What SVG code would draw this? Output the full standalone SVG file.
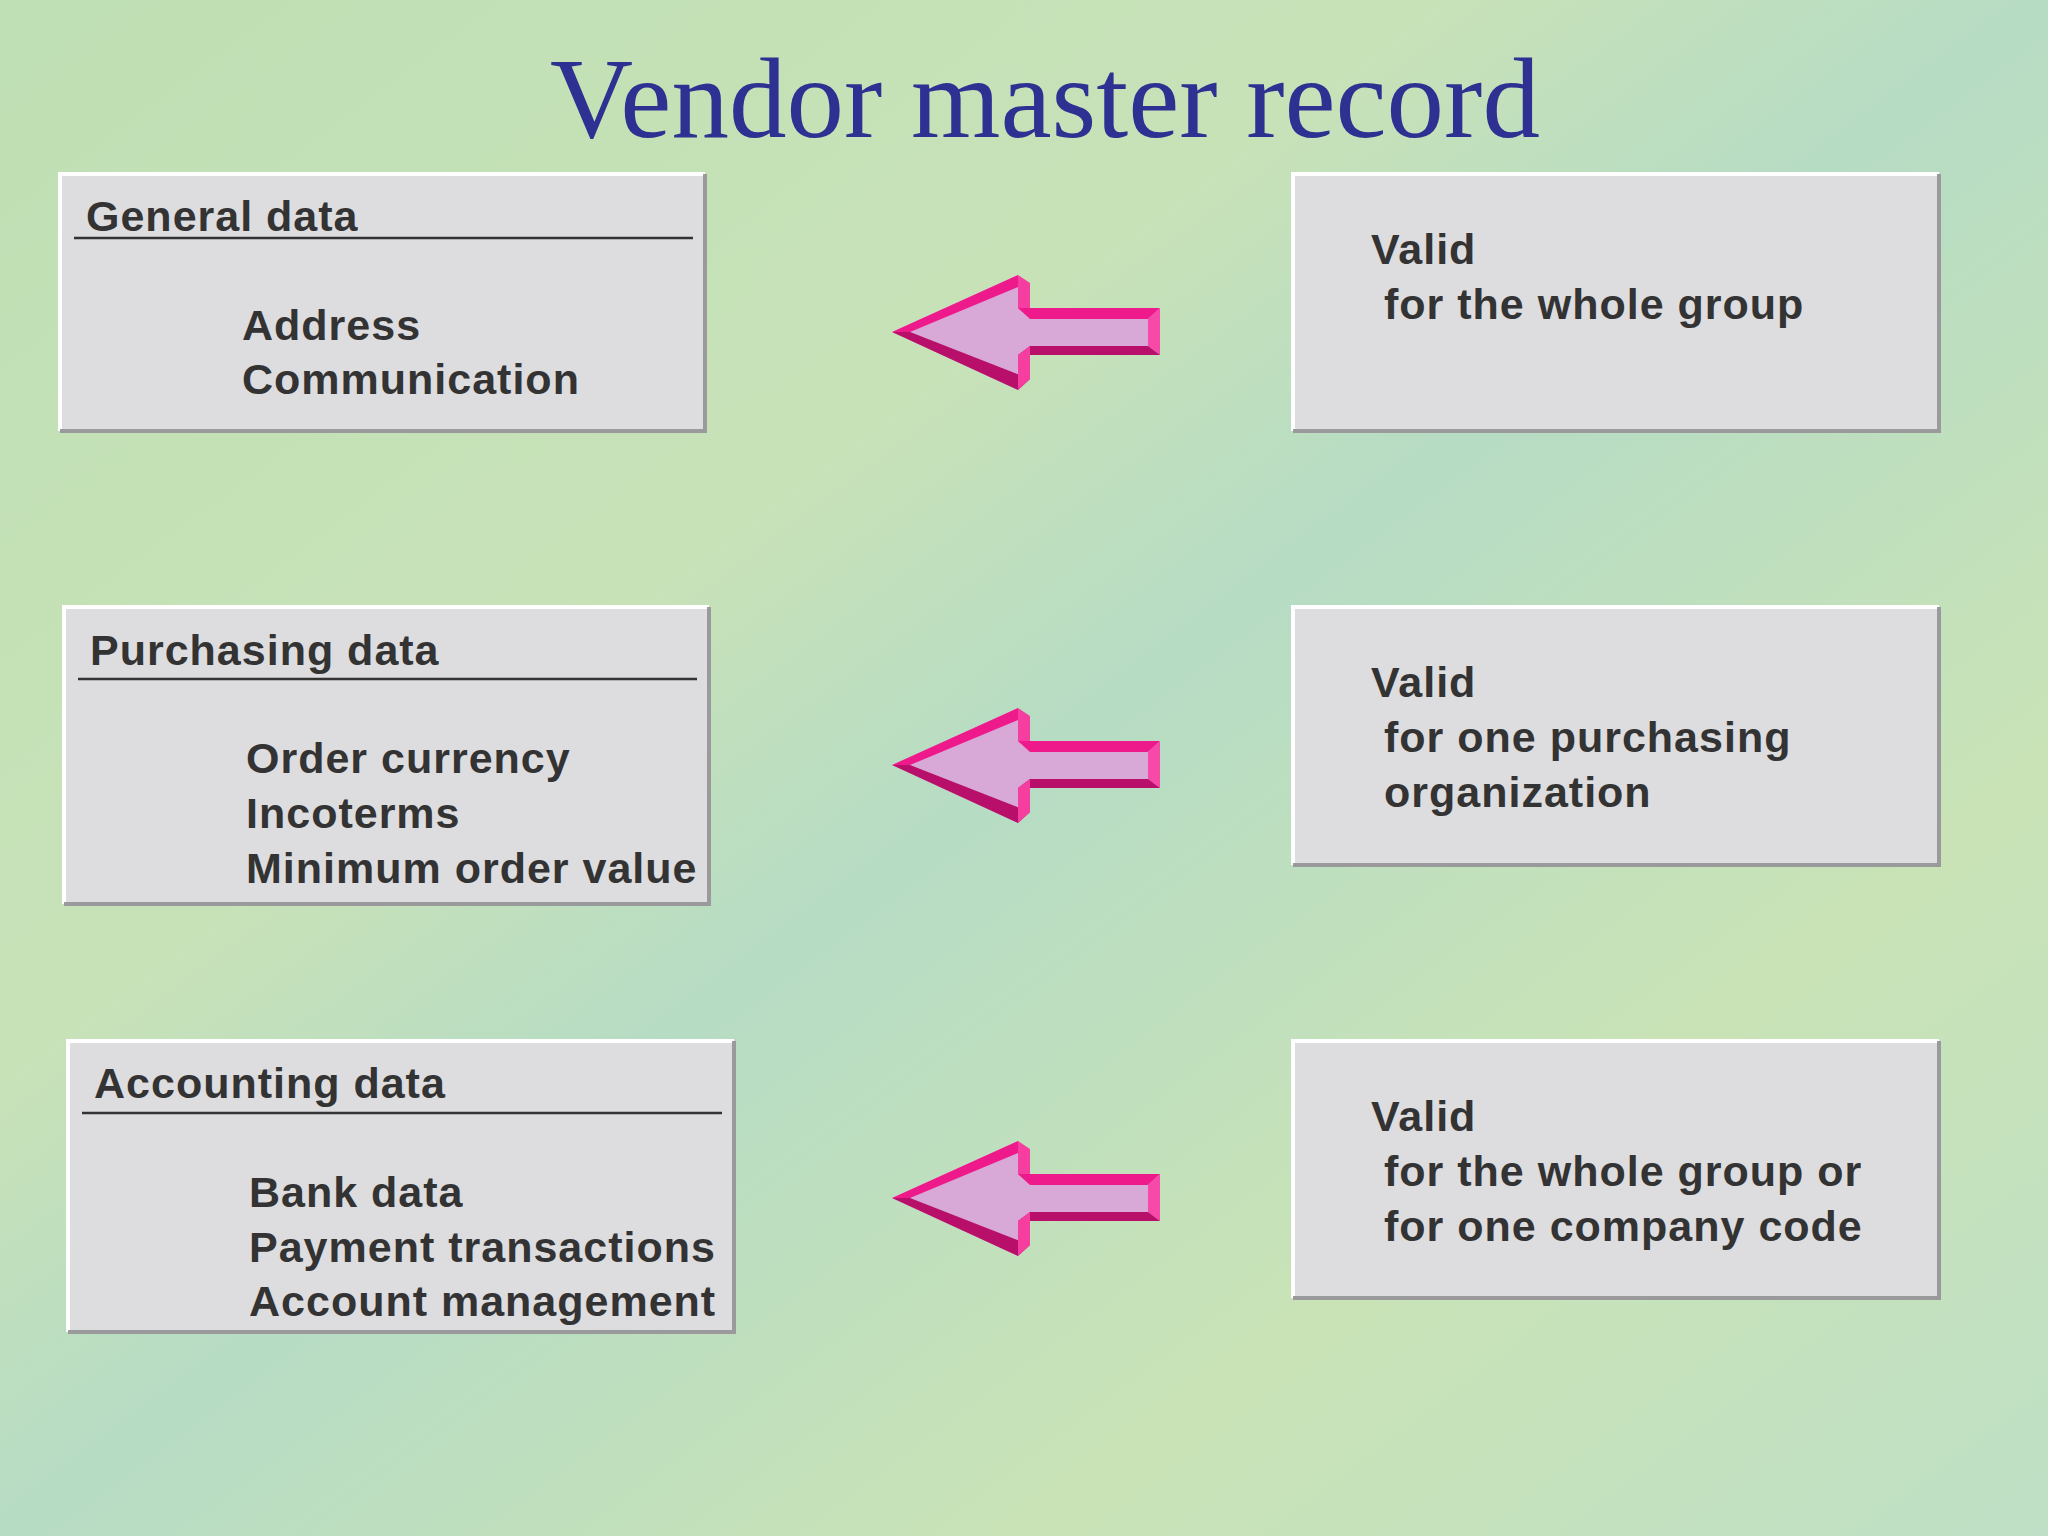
<svg xmlns="http://www.w3.org/2000/svg" width="2048" height="1536" viewBox="0 0 2048 1536">
<style>
.box{fill:#dddcdf;stroke:none}
.hl{stroke:#ffffff;stroke-width:4;fill:none}
.sh{stroke:#9a9a9c;stroke-width:4;fill:none}
.t{font-family:"Liberation Sans",Arial,sans-serif;font-weight:bold;font-size:43px;letter-spacing:1px;fill:#333333}
.ul{stroke:#333;stroke-width:2.5}
</style>
<defs>
<linearGradient id="bg" x1="0" y1="0" x2="1" y2="1">
<stop offset="0" stop-color="#bfe0b4"/><stop offset="0.35" stop-color="#c8e2b8"/><stop offset="0.5" stop-color="#b6dcc4"/><stop offset="0.75" stop-color="#c9e3b6"/><stop offset="1" stop-color="#bfe0c6"/>
</linearGradient>
<g id="arrow">
<polygon points="0,0 126,-57 126,-24 268,-24 268,23 126,23 126,58" fill="#d8a8d6"/>
<polygon points="0,0 126,-57 126,-45 18,0" fill="#ee1a8c"/>
<polygon points="126,-57 138,-49 138,-14 126,-24" fill="#f53ea0"/>
<polygon points="126,-24 268,-24 256,-13 138,-13" fill="#ee1a8c"/>
<polygon points="268,-24 268,23 256,14 256,-13" fill="#f74aa8"/>
<polygon points="268,23 126,23 138,14 256,14" fill="#b8106a"/>
<polygon points="0,0 18,0 138,47 126,58" fill="#b8106a"/>
<polygon points="126,23 138,14 138,47 126,58" fill="#f53ea0"/>
</g>
</defs>
<rect width="2048" height="1536" fill="url(#bg)"/>
<text x="1045" y="137" text-anchor="middle" font-family="'Liberation Serif','Times New Roman',serif" font-size="115" fill="#2e3192">Vendor master record</text>

<g id="general">
<rect class="box" x="60" y="174" width="645" height="257"/>
<polyline class="hl" points="60,431 60,174 705,174"/><polyline class="sh" points="705,174 705,431 60,431"/>
<text class="t" x="86" y="231">General data</text>
<line class="ul" x1="74" y1="238" x2="693" y2="238"/>
<text class="t" x="242" y="340">Address</text>
<text class="t" x="242" y="394">Communication</text>
</g>
<g id="purchasing">
<rect class="box" x="64" y="607" width="645" height="297"/>
<polyline class="hl" points="64,904 64,607 709,607"/><polyline class="sh" points="709,607 709,904 64,904"/>
<text class="t" x="90" y="665">Purchasing data</text>
<line class="ul" x1="78" y1="679" x2="697" y2="679"/>
<text class="t" x="246" y="773">Order currency</text>
<text class="t" x="246" y="828">Incoterms</text>
<text class="t" x="246" y="883">Minimum order value</text>
</g>
<g id="accounting">
<rect class="box" x="68" y="1041" width="666" height="291"/>
<polyline class="hl" points="68,1332 68,1041 734,1041"/><polyline class="sh" points="734,1041 734,1332 68,1332"/>
<text class="t" x="94" y="1098">Accounting data</text>
<line class="ul" x1="82" y1="1113" x2="722" y2="1113"/>
<text class="t" x="249" y="1207">Bank data</text>
<text class="t" x="249" y="1262">Payment transactions</text>
<text class="t" x="249" y="1316">Account management</text>
</g>
<g id="valid1">
<rect class="box" x="1293" y="174" width="646" height="257"/>
<polyline class="hl" points="1293,431 1293,174 1939,174"/><polyline class="sh" points="1939,174 1939,431 1293,431"/>
<text class="t" x="1371" y="264">Valid</text>
<text class="t" x="1384" y="319">for the whole group</text>
</g>
<g id="valid2">
<rect class="box" x="1293" y="607" width="646" height="258"/>
<polyline class="hl" points="1293,865 1293,607 1939,607"/><polyline class="sh" points="1939,607 1939,865 1293,865"/>
<text class="t" x="1371" y="697">Valid</text>
<text class="t" x="1384" y="752">for one purchasing</text>
<text class="t" x="1384" y="807">organization</text>
</g>
<g id="valid3">
<rect class="box" x="1293" y="1041" width="646" height="257"/>
<polyline class="hl" points="1293,1298 1293,1041 1939,1041"/><polyline class="sh" points="1939,1041 1939,1298 1293,1298"/>
<text class="t" x="1371" y="1131">Valid</text>
<text class="t" x="1384" y="1186">for the whole group or</text>
<text class="t" x="1384" y="1241">for one company code</text>
</g>
<g id="connectors">
<use href="#arrow" x="892" y="332"/>
<use href="#arrow" x="892" y="765"/>
<use href="#arrow" x="892" y="1198"/>
</g>
</svg>
